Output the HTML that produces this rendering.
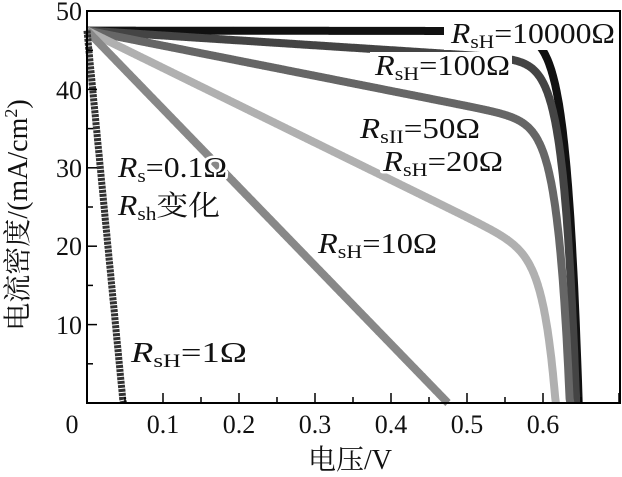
<!DOCTYPE html>
<html><head><meta charset="utf-8"><style>
body{margin:0;background:#fff;width:622px;height:472px;overflow:hidden}
svg text{font-family:"Liberation Serif","Noto Serif CJK SC",serif;fill:#111}
.lb text{stroke:#fff;stroke-width:5px;paint-order:stroke;stroke-linejoin:round}
</style></head><body>
<svg id="s" width="622" height="472" xmlns="http://www.w3.org/2000/svg">
<g id="curves"></g>
<rect x="444" y="19" width="174" height="31" fill="#fff"/>
<rect x="370" y="52" width="142" height="30" fill="#fff"/>
<rect x="87" y="11" width="533" height="392" fill="none" stroke="#000" stroke-width="2"/>
<g id="ticks" stroke="#000" stroke-width="1.5"></g>
<g font-size="26" text-anchor="middle">
<text x="72" y="433">0</text><text x="163" y="433">0.1</text><text x="239" y="433">0.2</text><text x="315" y="433">0.3</text><text x="391" y="433">0.4</text><text x="467" y="433">0.5</text><text x="543" y="433">0.6</text>
</g>
<g font-size="26" text-anchor="end">
<text x="82" y="20">50</text><text x="82" y="99">40</text><text x="82" y="177">30</text><text x="82" y="255">20</text><text x="82" y="334">10</text>
</g>
<text x="350" y="469" font-size="28" text-anchor="middle">电压/V</text>
<text transform="translate(27,215) rotate(-90)" font-size="28" text-anchor="middle">电流密度/(mA/cm<tspan dy="-10" font-size="18">2</tspan><tspan dy="10">)</tspan></text>
<g font-size="28" class="lb">
<text x="451" y="43" textLength="164" lengthAdjust="spacingAndGlyphs"><tspan font-style="italic">R</tspan><tspan font-size="19" dy="5">sH</tspan><tspan dy="-5">=10000Ω</tspan></text>
<text x="375" y="75" textLength="135" lengthAdjust="spacingAndGlyphs"><tspan font-style="italic">R</tspan><tspan font-size="19" dy="5">sH</tspan><tspan dy="-5">=100Ω</tspan></text>
<text x="360" y="138" textLength="120" lengthAdjust="spacingAndGlyphs"><tspan font-style="italic">R</tspan><tspan font-size="19" dy="5">sII</tspan><tspan dy="-5">=50Ω</tspan></text>
<text x="383" y="171" textLength="120" lengthAdjust="spacingAndGlyphs"><tspan font-style="italic">R</tspan><tspan font-size="19" dy="5">sH</tspan><tspan dy="-5">=20Ω</tspan></text>
<text x="318" y="253" textLength="119" lengthAdjust="spacingAndGlyphs"><tspan font-style="italic">R</tspan><tspan font-size="19" dy="5">sH</tspan><tspan dy="-5">=10Ω</tspan></text>
<text x="118" y="177" textLength="109" lengthAdjust="spacingAndGlyphs"><tspan font-style="italic">R</tspan><tspan font-size="19" dy="5">s</tspan><tspan dy="-5">=0.1Ω</tspan></text>
<text x="118" y="215" textLength="102" lengthAdjust="spacingAndGlyphs"><tspan font-style="italic">R</tspan><tspan font-size="19" dy="5">sh</tspan><tspan dy="-5">变化</tspan></text>
<text x="131" y="362" textLength="116" lengthAdjust="spacingAndGlyphs"><tspan font-style="italic">R</tspan><tspan font-size="19" dy="5">sH</tspan><tspan dy="-5">=1Ω</tspan></text>
</g>
</svg>
<script>
var X=function(v){return 87+760*v},Y=function(j){return 403-7.84*j};
var t=document.getElementById('ticks'),h='';
for(var i=0;i<=14;i++){var x=X(i*0.05);var L=i%2?6:10;h+='<line x1="'+x+'" y1="403" x2="'+x+'" y2="'+(403-L)+'"/>';}
for(var i=0;i<=10;i++){var y=Y(i*5);var L=i%2?6:10;h+='<line x1="87" y1="'+y+'" x2="'+(87+L)+'" y2="'+y+'"/>';}
t.innerHTML=h;
var curves=[[10000,'#111',0.647],[160,'#444',0.645],[52,'#666',0.64],[21,'#b0b0b0',0.632],[10,'#888',0.62],[1,'#333',0.6]];
var g='',Vt=0.016;
curves.forEach(function(c){
 var R=c[0],J0=47.5/Math.exp(c[2]/Vt),pts=[];
 for(var v=0;v<=0.7;v+=0.001){var j=47.5-v*1000/R-J0*(Math.exp(v/Vt)-1);
  if(j<0){pts.push(X(v).toFixed(1)+','+Y(0).toFixed(1));break;}
  pts.push(X(v).toFixed(1)+','+Y(j).toFixed(1));}
 g+='<polyline points="'+pts.join(' ')+'" fill="none" stroke="'+c[1]+'" stroke-width="'+(R==1?7:8)+'" stroke-linejoin="round"'+(R==1?' stroke-dasharray="3 1"':'')+'/>';
});
document.getElementById('curves').innerHTML=g;
</script>
</body></html>
